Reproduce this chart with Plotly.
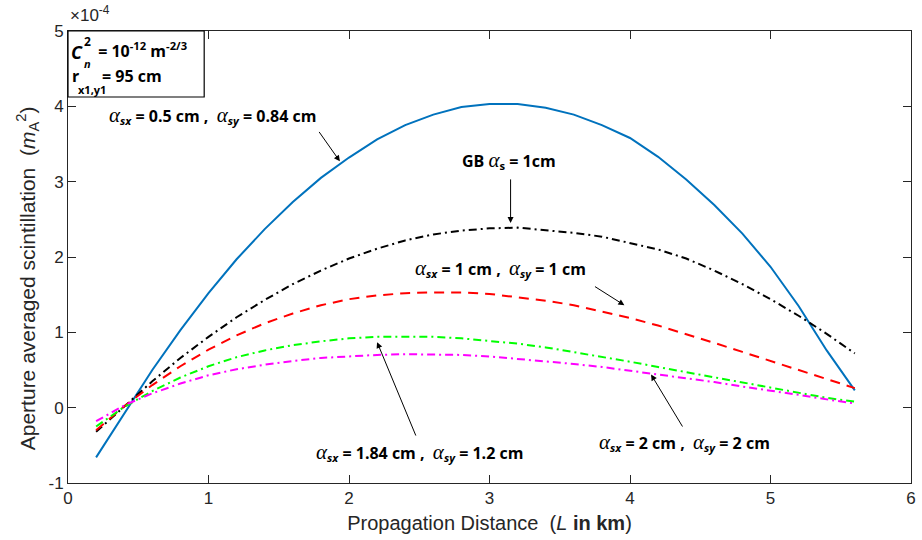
import plotly.graph_objects as go

# Propagation distance (km)
distance_km = [0.2, 0.4, 0.6, 0.8, 1.0, 1.2, 1.4, 1.6, 1.8, 2.0, 2.2, 2.4, 2.6, 2.8,
               3.0, 3.2, 3.4, 3.6, 3.8, 4.0, 4.2, 4.4, 4.6, 4.8, 5.0, 5.2, 5.4, 5.6]

# Aperture averaged scintillation, in units of 1e-4
scint_05_084 = [-0.66, -0.08, 0.50, 1.03, 1.52, 1.97, 2.37, 2.73, 3.05, 3.32, 3.56, 3.75,
                3.89, 3.99, 4.03, 4.03, 3.98, 3.89, 3.75, 3.58, 3.33, 3.03, 2.69, 2.31,
                1.87, 1.35, 0.76, 0.23]
scint_gb_1 = [-0.32, 0.02, 0.35, 0.66, 0.94, 1.20, 1.43, 1.64, 1.82, 1.98, 2.11, 2.22,
              2.30, 2.35, 2.38, 2.39, 2.36, 2.32, 2.27, 2.19, 2.10, 1.98, 1.82, 1.64,
              1.44, 1.22, 0.98, 0.72]
scint_1_1 = [-0.30, 0.02, 0.30, 0.55, 0.77, 0.96, 1.12, 1.25, 1.36, 1.44, 1.49, 1.52,
             1.53, 1.53, 1.51, 1.47, 1.42, 1.36, 1.28, 1.19, 1.09, 0.98, 0.86, 0.74,
             0.62, 0.50, 0.38, 0.26]
scint_184_12 = [-0.25, 0.01, 0.22, 0.40, 0.55, 0.67, 0.76, 0.83, 0.88, 0.92, 0.94, 0.945,
                0.94, 0.92, 0.89, 0.85, 0.80, 0.74, 0.68, 0.61, 0.54, 0.47, 0.40, 0.33,
                0.26, 0.19, 0.13, 0.08]
scint_2_2 = [-0.18, 0.03, 0.19, 0.32, 0.43, 0.51, 0.57, 0.62, 0.66, 0.68, 0.70, 0.71,
             0.71, 0.70, 0.68, 0.65, 0.61, 0.58, 0.54, 0.49, 0.44, 0.39, 0.34, 0.28,
             0.23, 0.17, 0.11, 0.055]

x_ticks = [0, 1, 2, 3, 4, 5, 6]
y_ticks = [-1, 0, 1, 2, 3, 4, 5]
y_tick_text = ["-1", "0", "1", "2", "3", "4", "5"]

AXIS_GRAY = "#262626"
TICK_FONT = dict(family="Liberation Sans, Arial, sans-serif", size=17, color=AXIS_GRAY)
TITLE_FONT = dict(TICK_FONT, size=20)
LABEL_FONT = dict(family="Open Sans, sans-serif", size=16, color="black")
ALPHA = ('<span style="font-family:\'Liberation Serif\';font-style:italic;'
         'font-weight:normal;font-size:21px">α</span>')

fig = go.Figure()

series = [
    (scint_05_084, "#0072BD", "solid"),
    (scint_gb_1, "black", "8px,4px,2px,4px"),
    (scint_1_1, "#FF0000", "10px,7px"),
    (scint_184_12, "#00FF00", "8px,4px,2px,4px"),
    (scint_2_2, "#FF00FF", "8px,4px,2px,4px"),
]
for values, color, dash in series:
    fig.add_trace(go.Scatter(x=distance_km, y=values, mode="lines",
                             line=dict(color=color, width=2, dash=dash),
                             showlegend=False, hoverinfo="skip"))

def bold(s):
    return "<b>" + s + "</b>"

def alpha_pair(sx, sy):
    return (ALPHA + "<sub><b><i>sx</i></b></sub>" + bold(" = " + sx + " ,  ")
            + ALPHA + "<sub><b><i>sy</i></b></sub>" + bold(" = " + sy))

annotations = []

def label(x, y, text, size=16):
    annotations.append(dict(x=x, y=y, xref="x", yref="y", text=text, showarrow=False,
                            xanchor="center", yanchor="middle",
                            font=dict(LABEL_FONT, size=size)))

def arrow(tail, head):
    annotations.append(dict(x=head[0], y=head[1], ax=tail[0], ay=tail[1],
                            xref="x", yref="y", axref="x", ayref="y", text="",
                            showarrow=True, arrowhead=2, arrowsize=1.2, arrowwidth=1,
                            arrowcolor="black"))

label(1.025, 3.88, alpha_pair("0.5 cm", "0.84 cm"))
arrow((1.78, 3.68), (1.935, 3.27))

label(3.14, 3.28, bold("GB ") + ALPHA + "<sub><b>s</b></sub>" + bold(" = 1cm"))
arrow((3.15, 3.05), (3.15, 2.45))

label(3.08, 1.85, alpha_pair("1 cm", "1 cm"))
arrow((3.74, 1.62), (3.96, 1.36))

label(2.50, -0.59, alpha_pair("1.84 cm", "1.2 cm"))
arrow((2.48, -0.39), (2.20, 0.87))

label(4.39, -0.46, alpha_pair("2 cm", "2 cm"))
arrow((4.38, -0.27), (4.15, 0.44))

# Parameter box in the upper-left corner
def pix(px, py):
    return dict(x=(px - 68) / 848, y=(483 - py) / 452, xref="paper", yref="paper")

def box_text(px, py, text, size=16, xanchor="left", font=None):
    annotations.append(dict(**pix(px, py), text=text, showarrow=False,
                            xanchor=xanchor, yanchor="middle",
                            font=dict(font or LABEL_FONT, size=size)))

box_text(69, 52, "<b><i>C</i></b>", size=18)
box_text(82, 42, "<b>2</b>", size=12)
box_text(82, 63, "<b><i>n</i></b>", size=11)
box_text(92, 50, bold(" = 10<sup>-12</sup> m<sup>-2/3</sup>"))
box_text(70, 76, "<b>r</b>")
box_text(76, 89, "<b>x1,y1</b>", size=11)
box_text(100, 76, bold("= 95 cm"))

# Exponent label for the y axis
box_text(68, 14, "×10<sup>-4</sup>", size=17, font=TICK_FONT)

# Y axis title placed as a rotated annotation
annotations.append(dict(x=(27 - 68) / 848, y=(483 - 278) / 452, xref="paper", yref="paper",
                        text="Aperture averaged scintillation  (<i>m</i><sub>A</sub><sup>2</sup>)",
                        showarrow=False, textangle=-90, xanchor="center", yanchor="middle",
                        font=dict(TITLE_FONT, size=21)))

fig.add_shape(type="rect", xref="paper", yref="paper",
              x0=0, x1=(205 - 68) / 848, y0=(483 - 97) / 452, y1=1,
              line=dict(color="black", width=1.2), fillcolor="white", layer="above")

fig.update_layout(
    width=922, height=540,
    margin=dict(l=68, r=6, t=31, b=57),
    paper_bgcolor="white", plot_bgcolor="white",
    annotations=annotations,
    xaxis=dict(range=[0, 6], tickvals=x_ticks, ticks="inside", ticklen=8,
               tickcolor=AXIS_GRAY, showline=True, linecolor=AXIS_GRAY, linewidth=1,
               mirror="allticks", showgrid=False, zeroline=False, tickfont=TICK_FONT,
               title=dict(text="Propagation Distance  (<i>L</i> <b>in km</b>)",
                          font=TITLE_FONT, standoff=8)),
    yaxis=dict(range=[-1, 5], tickvals=y_ticks, ticktext=y_tick_text, ticks="inside",
               ticklen=8, tickcolor=AXIS_GRAY, showline=True, linecolor=AXIS_GRAY,
               linewidth=1, mirror="allticks", showgrid=False, zeroline=False,
               tickfont=TICK_FONT),
)

fig.write_html("out.html")
